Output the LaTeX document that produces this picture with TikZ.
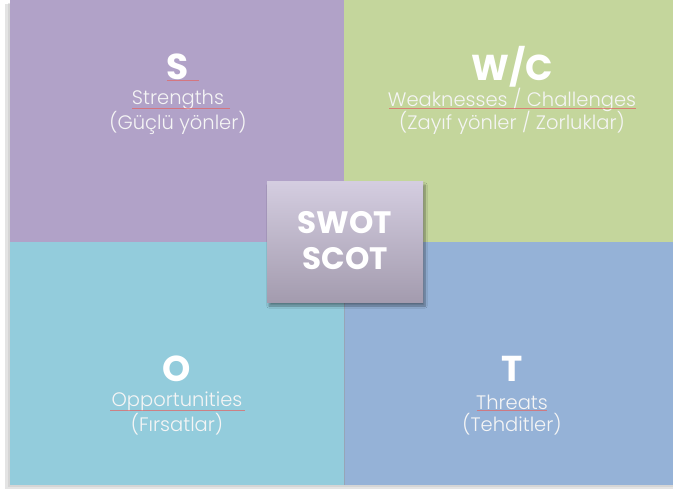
\documentclass[tikz,border=0pt]{standalone}
\usepackage{fontspec}
\setmainfont{Poppins}[UprightFont={* Light}, BoldFont={* Bold}]
\usetikzlibrary{shadows.blur}
\definecolor{qpurple}{HTML}{B1A2C8}
\definecolor{qgreen}{HTML}{C4D69C}
\definecolor{qcyan}{HTML}{93CCDC}
\definecolor{qblue}{HTML}{95B2D7}
\definecolor{ctop}{HTML}{D4CDE0}
\definecolor{cbot}{HTML}{A39BAE}
\definecolor{squig}{HTML}{E06868}
\tikzset{
  quad/.style={draw=none, minimum width=334pt, minimum height=242pt, inner sep=0pt, outer sep=0pt, anchor=north west},
  head/.style={text=white, font=\bfseries\fontsize{36}{36}\selectfont, inner sep=0pt},
  sub/.style={text=white!92!gray, font=\fontsize{19.5}{22}\selectfont, align=center, inner sep=0pt},
  ctr/.style={text=white, font=\bfseries\fontsize{31}{36}\selectfont, align=center, inner sep=0pt},
  spell/.style={draw=squig, line width=0.6pt, opacity=0.75}
}
\begin{document}
\begin{tikzpicture}[x=1pt,y=-1pt]
\useasboundingbox (0,0) rectangle (673,489);
% shadow of grid
\fill[black!35, opacity=0.3] (5,4) rectangle (673,489);
\fill[black!30, opacity=0.3] (8,3) rectangle (673,487);
\node[quad, fill=qpurple] (qs) at (10,0) {};
\node[quad, fill=qgreen, minimum width=330pt] (qw) at (344,0) {};
\node[quad, fill=qcyan, minimum height=243pt] (qo) at (10,242) {};
\node[quad, fill=qblue, minimum width=330pt, minimum height=243pt] (qt) at (344,242) {};
\draw[black!40, opacity=0.5, line width=0.8pt] (qt.north west) -- (qt.south west);
% texts
\node[head] (hs) at (178,67) {S};
\node[sub] (ts) at (178,100) {Strengths};
\node[sub] (ts2) at (178,123) {(Güçlü yönler)};
\node[head] (hw) at (512,67) {W/C};
\node[sub] (tw) at (512,100) {Weaknesses / Challenges};
\node[sub] (tw2) at (512,123) {(Zayıf yönler / Zorluklar)};
\node[head] (ho) at (177,369) {O};
\node[sub] (to) at (177,402) {Opportunities};
\node[sub] (to2) at (177,424) {(Fırsatlar)};
\node[head] (ht) at (512,369) {T};
\node[sub] (tt) at (512,402) {Threats};
\node[sub] (tt2) at (512,424) {(Tehditler)};
% spell-check underlines
\draw[spell] (167,80.5) -- (199,80.5);
\draw[spell] (132,108) -- (230,108);
\draw[spell] (389,108) -- (636,108);
\draw[spell] (110,410) -- (245,410);
\draw[spell] (477,410) -- (547,410);
% centre box
\node[minimum width=156pt, minimum height=121pt, inner sep=0pt, top color=ctop, bottom color=cbot,
  blur shadow={shadow xshift=2pt, shadow yshift=-3pt, shadow blur steps=8, shadow opacity=40}] (c) at (345,242.5) {};
\node[ctr] (ct) at ([yshift=2pt]c.center) {SWOT\\SCOT};
\end{tikzpicture}
\end{document}
